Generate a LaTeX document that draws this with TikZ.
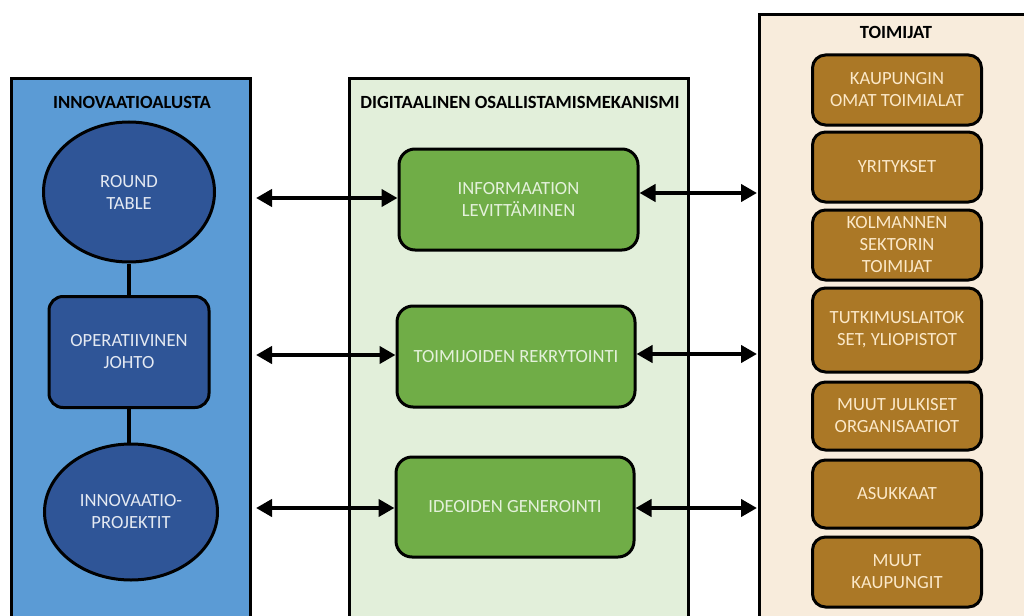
\documentclass[tikz,border=0pt]{standalone}
\usepackage{fontspec}
\setmainfont{Carlito}
\usetikzlibrary{arrows.meta,shapes.geometric}

\definecolor{panelblue}{HTML}{5B9BD5}
\definecolor{navy}{HTML}{2F5597}
\definecolor{navytext}{HTML}{E4E9F2}
\definecolor{palegreen}{HTML}{E2EFDA}
\definecolor{leaf}{HTML}{70AD47}
\definecolor{leaftext}{HTML}{E4F1DB}
\definecolor{sand}{HTML}{F8ECDC}
\definecolor{ochre}{HTML}{AB7826}
\definecolor{cream}{HTML}{FBE8C8}

\tikzset{
  panel/.style={draw=black, line width=3pt, anchor=north west, outer sep=0pt, inner sep=0pt},
  paneltitle/.style={font=\fontsize{18.6}{22}\selectfont\bfseries, text=black, inner sep=0pt},
  boxtext/.style={font=\fontsize{18.6}{22}\selectfont, align=center, inner sep=0pt},
  ell/.style={ellipse, draw=black, line width=3pt, fill=navy, text=navytext, boxtext},
  navybox/.style={rectangle, rounded corners=14pt, draw=black, line width=3pt, fill=navy, text=navytext, boxtext},
  greenbox/.style={rectangle, rounded corners=16pt, draw=black, line width=3pt, fill=leaf, text=leaftext, boxtext,
                   minimum width=238pt, minimum height=101pt},
  brownbox/.style={rectangle, rounded corners=13pt, draw=black, line width=3pt, fill=ochre, text=cream, boxtext,
                   minimum width=169pt},
  link/.style={draw=black, line width=3.5pt},
  arr/.style={draw=black, line width=4pt, {Triangle[length=16pt,width=17pt]}-{Triangle[length=16pt,width=17pt]}}
}

\begin{document}
\begin{tikzpicture}[x=1pt,y=-1pt]
  \clip (0,0) rectangle (1024,615);
  \fill[white] (0,0) rectangle (1024,615);

  % three background panels, running off the bottom edge
  \node[panel, fill=panelblue, minimum width=239pt, minimum height=640pt] (lp) at (11.5,78.5) {};
  \node[panel, fill=palegreen, minimum width=339pt, minimum height=640pt] (mp) at (349.5,79) {};
  \node[panel, fill=sand, minimum width=300pt, minimum height=700pt] (rp) at (759.5,14.5) {};

  % panel headings
  \node[paneltitle] (lt) at (132,102) {INNOVAATIOALUSTA};
  \node[paneltitle] (mt) at (520,102) {DIGITAALINEN OSALLISTAMISMEKANISMI};
  \node[paneltitle] (rt) at (896,32) {TOIMIJAT};

  % innovation platform column
  \node[ell, minimum width=171pt, minimum height=140pt] (round) at (129,192) {ROUND\\TABLE};
  \node[navybox, minimum width=160pt, minimum height=111pt] (ops) at (129,352) {OPERATIIVINEN\\JOHTO};
  \node[ell, minimum width=173pt, minimum height=136pt] (proj) at (131,512) {INNOVAATIO-\\PROJEKTIT};
  \draw[link] (round.south) -- (ops.north);
  \draw[link] (ops.south) -- (ops.south |- proj.north);

  % digital participation mechanism column
  \node[greenbox, minimum width=239pt] (info) at (518.5,199.5) {INFORMAATION\\LEVITTÄMINEN};
  \node[greenbox] (rekry) at (516,356.5) {TOIMIJOIDEN REKRYTOINTI};
  \node[greenbox, minimum height=100pt] (idea) at (515,507) {IDEOIDEN GENEROINTI};

  % actors column
  \node[brownbox, minimum height=70pt] (kaup) at (897,90) {KAUPUNGIN\\OMAT TOIMIALAT};
  \node[brownbox, minimum height=70pt] (yrit) at (897,167) {YRITYKSET};
  \node[brownbox, minimum height=70pt] (kolm) at (897,245) {KOLMANNEN\\SEKTORIN\\TOIMIJAT};
  \node[brownbox, minimum height=84pt] (tutk) at (897,330) {TUTKIMUSLAITOK\\SET, YLIOPISTOT};
  \node[brownbox, minimum height=68pt] (julk) at (897,416) {MUUT JULKISET\\ORGANISAATIOT};
  \node[brownbox, minimum height=68pt] (asuk) at (897,494) {ASUKKAAT};
  \node[brownbox, minimum height=70pt] (muut) at (897,572) {MUUT\\KAUPUNGIT};

  % free ends of the double arrows
  \coordinate (l1) at (256,198);
  \coordinate (l2) at (256,355);
  \coordinate (l3) at (256,508);
  \coordinate (r1) at (757,193);
  \coordinate (r2) at (757,354);
  \coordinate (r3) at (757,508);

  \draw[arr] (l1) -- (info.west |- l1);
  \draw[arr] (info.east |- r1) -- (r1);
  \draw[arr] (l2) -- (rekry.west |- l2);
  \draw[arr] (rekry.east |- r2) -- (r2);
  \draw[arr] (l3) -- (idea.west |- l3);
  \draw[arr] (idea.east |- r3) -- (r3);
\end{tikzpicture}
\end{document}
